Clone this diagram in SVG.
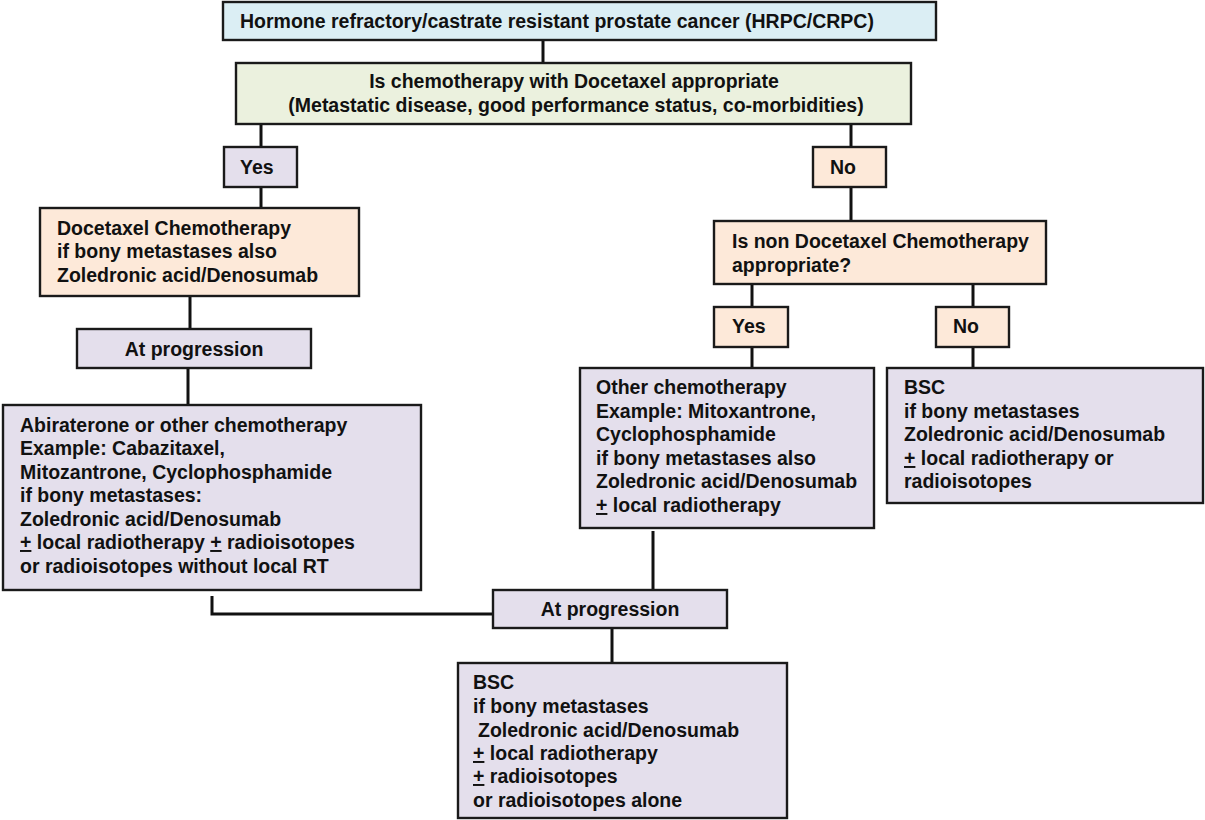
<svg xmlns="http://www.w3.org/2000/svg" width="1205" height="820" viewBox="0 0 1205 820">
<style>
.box{stroke:#1a1a1a;stroke-width:2.4}
.blue{fill:#DBEEF4}
.green{fill:#EBF1DE}
.peach{fill:#FDE9D9}
.lav{fill:#E4DFEC}
text{font-family:"Liberation Sans",Arial,sans-serif;font-weight:bold;font-size:19.5px;fill:#111}
.c{text-anchor:middle}
.u{text-decoration:underline}
#connectors line,#connectors polyline{stroke:#111;stroke-width:3;fill:none}
</style>
<rect width="1205" height="820" fill="#fff"/>
<g id="connectors">
<line x1="543" y1="40" x2="543" y2="63"/>
<line x1="261" y1="124" x2="261" y2="147"/>
<line x1="261" y1="187" x2="261" y2="208"/>
<line x1="190" y1="296" x2="190" y2="329"/>
<line x1="188" y1="368" x2="188" y2="405"/>
<line x1="851" y1="124" x2="851" y2="147"/>
<line x1="851" y1="187" x2="851" y2="221"/>
<line x1="752" y1="284" x2="752" y2="307"/>
<line x1="752" y1="347" x2="752" y2="368"/>
<line x1="973" y1="284" x2="973" y2="307"/>
<line x1="973" y1="347" x2="973" y2="368"/>
<line x1="653" y1="531" x2="653" y2="590"/>
<polyline points="212,596 212,614 493,614"/>
<line x1="612" y1="628" x2="612" y2="663"/>
</g>
<g id="n-top"><rect class="box blue" x="223" y="2" width="713" height="38"/>
<text x="240" y="28">Hormone refractory/castrate resistant prostate cancer (HRPC/CRPC)</text></g>
<g id="n-docq"><rect class="box green" x="236" y="63" width="675" height="61"/>
<text class="c" x="574" y="88">Is chemotherapy with Docetaxel appropriate</text>
<text class="c" x="576" y="112">(Metastatic disease, good performance status, co-morbidities)</text></g>
<g id="n-yes1"><rect class="box lav" x="224" y="147" width="73" height="40"/>
<text x="240" y="174">Yes</text></g>
<g id="n-no1"><rect class="box peach" x="813" y="147" width="73" height="40"/>
<text x="830" y="174">No</text></g>
<g id="n-doce"><rect class="box peach" x="40" y="208" width="319" height="88"/>
<text x="57" y="235">Docetaxel Chemotherapy</text>
<text x="57" y="258">if bony metastases also</text>
<text x="57" y="282">Zoledronic acid/Denosumab</text></g>
<g id="n-prog1"><rect class="box lav" x="77" y="329" width="234" height="39"/>
<text class="c" x="194" y="356">At progression</text></g>
<g id="n-abi"><rect class="box lav" x="3" y="405" width="418" height="185"/>
<text x="20" y="432">Abiraterone or other chemotherapy</text>
<text x="20" y="455">Example: Cabazitaxel,</text>
<text x="20" y="479">Mitozantrone, Cyclophosphamide</text>
<text x="20" y="502">if bony metastases:</text>
<text x="20" y="526">Zoledronic acid/Denosumab</text>
<text x="20" y="549"><tspan class="u">+</tspan> local radiotherapy <tspan class="u">+</tspan> radioisotopes</text>
<text x="20" y="573">or radioisotopes without local RT</text></g>
<g id="n-nondoc"><rect class="box peach" x="714" y="221" width="332" height="63"/>
<text x="732" y="248">Is non Docetaxel Chemotherapy</text>
<text x="732" y="272">appropriate?</text></g>
<g id="n-yes2"><rect class="box peach" x="714" y="307" width="74" height="40"/>
<text x="732" y="333">Yes</text></g>
<g id="n-no2"><rect class="box peach" x="936" y="307" width="73" height="40"/>
<text x="953" y="333">No</text></g>
<g id="n-other"><rect class="box lav" x="580" y="368" width="294" height="160"/>
<text x="596" y="394">Other chemotherapy</text>
<text x="596" y="418">Example: Mitoxantrone,</text>
<text x="596" y="441">Cyclophosphamide</text>
<text x="596" y="465">if bony metastases also</text>
<text x="596" y="488">Zoledronic acid/Denosumab</text>
<text x="596" y="512"><tspan class="u">+</tspan> local radiotherapy</text></g>
<g id="n-bsc1"><rect class="box lav" x="887" y="368" width="316" height="135"/>
<text x="904" y="394">BSC</text>
<text x="904" y="418">if bony metastases</text>
<text x="904" y="441">Zoledronic acid/Denosumab</text>
<text x="904" y="465"><tspan class="u">+</tspan> local radiotherapy or</text>
<text x="904" y="488">radioisotopes</text></g>
<g id="n-prog2"><rect class="box lav" x="493" y="590" width="234" height="38"/>
<text class="c" x="610" y="616">At progression</text></g>
<g id="n-bsc2"><rect class="box lav" x="458" y="663" width="329" height="155"/>
<text x="473" y="689">BSC</text>
<text x="473" y="713">if bony metastases</text>
<text x="478" y="737">Zoledronic acid/Denosumab</text>
<text x="473" y="760"><tspan class="u">+</tspan> local radiotherapy</text>
<text x="473" y="783"><tspan class="u">+</tspan> radioisotopes</text>
<text x="473" y="807">or radioisotopes alone</text></g>
</svg>
